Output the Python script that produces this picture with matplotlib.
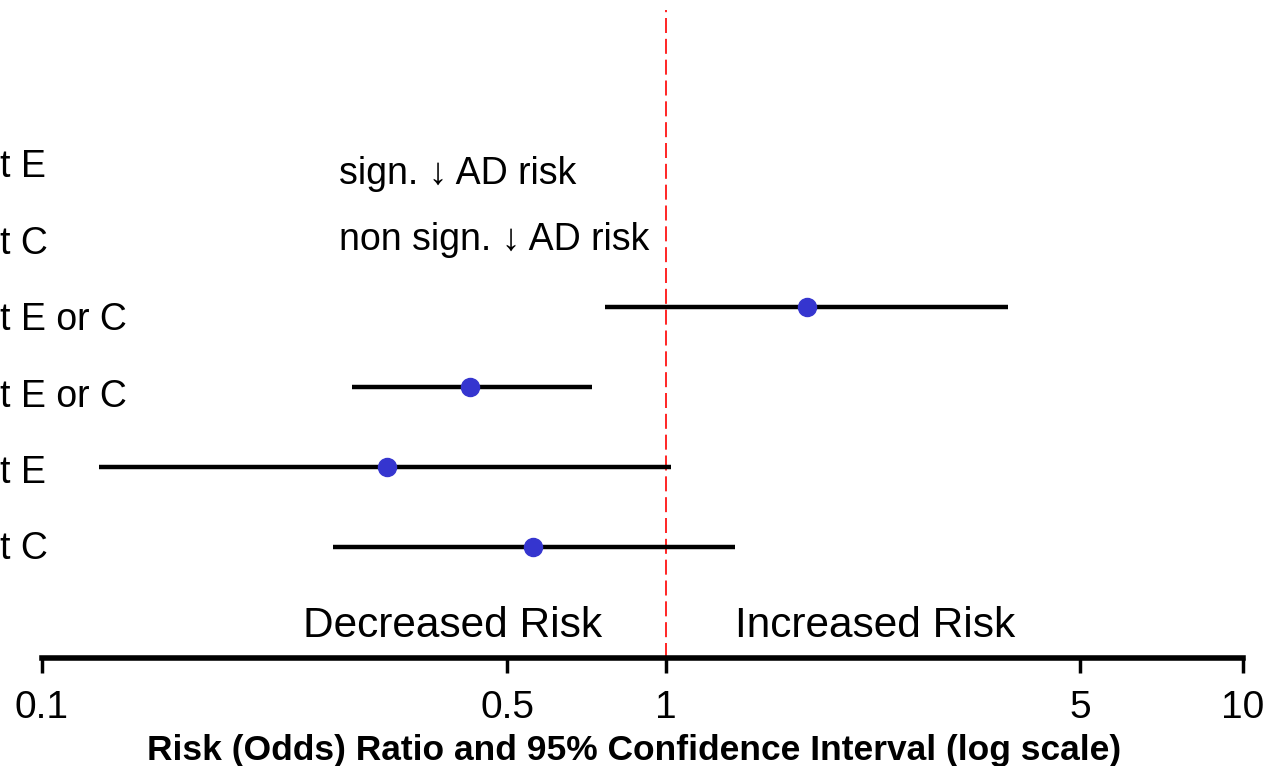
import numpy as np
import matplotlib
matplotlib.use("Agg")
import matplotlib.pyplot as plt
from matplotlib.transforms import blended_transform_factory

plt.rcParams['font.family'] = ['Liberation Sans', 'DejaVu Sans']

# rows, bottom to top
labels = ['t C', 't E', 't E or C', 't E or C', 't C', 't E']
odds = [0.56, 0.33, 0.44, 1.73]
ci_low = [0.274, 0.122, 0.292, 0.766]
ci_high = [1.31, 1.02, 0.724, 3.78]
notes = ['sign. \u2193 AD risk', 'non sign. \u2193 AD risk']

tick_vals = [0.1, 0.5, 1, 5, 10]
tick_text = ['0.1', '0.5', '1', '5', '10']

# the printed axis is not evenly logarithmic, so the decades are stretched
# piecewise to sit where the original ticks sit
scale_log = np.log10(tick_vals)
scale_pos = np.array([0.0, 465.0, 624.0, 1038.0, 1201.0])


def _interp(x, xp, fp):
    x = np.asarray(x, dtype=float)
    y = np.interp(x, xp, fp)
    lo = x < xp[0]
    hi = x > xp[-1]
    y = np.where(lo, fp[0] + (x - xp[0]) * (fp[1] - fp[0]) / (xp[1] - xp[0]), y)
    y = np.where(hi, fp[-1] + (x - xp[-1]) * (fp[-1] - fp[-2]) / (xp[-1] - xp[-2]), y)
    return y


def forward(v):
    v = np.clip(np.asarray(v, dtype=float), 1e-6, None)
    return _interp(np.log10(v), scale_log, scale_pos)


def inverse(p):
    return 10 ** _interp(p, scale_pos, scale_log)


fig = plt.figure(figsize=(12.74, 7.66), dpi=100)
ax = fig.add_axes([42 / 1274, 108 / 766, 1201 / 1274, 648 / 766])
ax.set_xscale('function', functions=(forward, inverse))
ax.set_xlim(0.1, 10)
ax.set_ylim(1 - 111 / 80, 1 + 537 / 80)

rows = np.arange(1, len(odds) + 1)
ax.hlines(rows, ci_low, ci_high, color='black', lw=3.2, zorder=2)
ax.plot(odds, rows, 'o', color='#3535CF', markersize=13, zorder=3)

ax.axvline(1, color='red', lw=1.2, linestyle=(0, (9, 3.5)), zorder=1)

# row labels hug the left edge of the figure
trans = blended_transform_factory(fig.transFigure, ax.transData)
for i, lab in enumerate(labels):
    ax.text(0.0, 0.97 + i * 0.955, lab, transform=trans, ha='left', va='center',
            fontsize=27, clip_on=False)

ax.text(0.28, 5.66, notes[0], ha='left', va='center', fontsize=27)
ax.text(0.28, 4.84, notes[1], ha='left', va='center', fontsize=27)

ax.text(0.757, 0.01, 'Decreased Risk', ha='right', va='center', fontsize=30.5)
ax.text(1.31, 0.01, 'Increased Risk', ha='left', va='center', fontsize=30.5)

for s in ['top', 'right', 'left']:
    ax.spines[s].set_visible(False)
ax.spines['bottom'].set_linewidth(4)
ax.set_yticks([])
ax.set_xticks(tick_vals)
ax.set_xticklabels(tick_text)
ax.xaxis.set_minor_locator(plt.NullLocator())
ax.tick_params(axis='x', direction='out', length=11, width=2.5, labelsize=28, pad=12)
ax.set_xlabel('Risk (Odds) Ratio and 95% Confidence Interval (log scale)',
              fontsize=25.5, fontweight='bold')
ax.xaxis.set_label_coords(0.493, -0.118)

fig.savefig('out.png', dpi=100)
